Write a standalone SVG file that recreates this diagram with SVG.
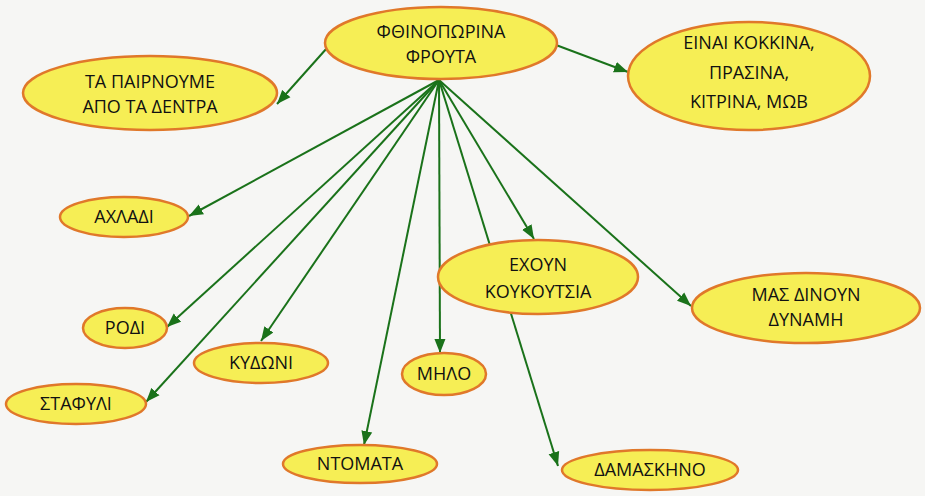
<svg xmlns="http://www.w3.org/2000/svg" width="925" height="496" viewBox="0 0 925 496">
<style>
.bg{fill:#f6f6f4}
.n{fill:#f6ee55;stroke:#e0782a;stroke-width:2.5}
.t{font-family:"Open Sans","DejaVu Sans",sans-serif;font-size:18px;fill:#111;text-anchor:middle}
.c{stroke:#1a721a;stroke-width:2;fill:none;marker-end:url(#ah)}
</style>
<defs>
<marker id="ah" markerUnits="userSpaceOnUse" markerWidth="16" markerHeight="12" refX="14" refY="6" orient="auto">
<path d="M0,0.5 L14,6 L0,11.5 z" fill="#1a721a"/>
</marker>
</defs>
<rect class="bg" x="0" y="0" width="925" height="496"/>
<g id="connectors">
<line class="c" x1="327" y1="48" x2="277" y2="104"/>
<line class="c" x1="556" y1="45" x2="628" y2="72"/>
<line class="c" x1="439" y1="80" x2="189" y2="216"/>
<line class="c" x1="439" y1="80" x2="167" y2="327"/>
<line class="c" x1="439" y1="80" x2="146" y2="402"/>
<line class="c" x1="439" y1="80" x2="261" y2="341"/>
<line class="c" x1="439" y1="80" x2="364" y2="445"/>
<line class="c" x1="439" y1="80" x2="440" y2="353"/>
<line class="c" x1="439" y1="80" x2="534" y2="239"/>
<line class="c" x1="439" y1="80" x2="558" y2="466"/>
<line class="c" x1="439" y1="80" x2="691" y2="306"/>
</g>
<g id="root"><ellipse class="n" cx="441" cy="43" rx="116" ry="36"/><text class="t" x="441" y="38">ΦΘΙΝΟΠΩΡΙΝΑ</text><text class="t" x="441" y="63">ΦΡΟΥΤΑ</text></g>
<g id="trees"><ellipse class="n" cx="150" cy="93" rx="127" ry="37"/><text class="t" x="150" y="88">ΤΑ ΠΑΙΡΝΟΥΜΕ</text><text class="t" x="150" y="113">ΑΠΟ ΤΑ ΔΕΝΤΡΑ</text></g>
<g id="colors"><ellipse class="n" cx="749" cy="76" rx="121" ry="54"/><text class="t" x="749" y="49">ΕΙΝΑΙ ΚΟΚΚΙΝΑ,</text><text class="t" x="749" y="79">ΠΡΑΣΙΝΑ,</text><text class="t" x="749" y="108">ΚΙΤΡΙΝΑ, ΜΩΒ</text></g>
<g id="achladi"><ellipse class="n" cx="124" cy="217" rx="64" ry="20"/><text class="t" x="124" y="223">ΑΧΛΑΔΙ</text></g>
<g id="rodi"><ellipse class="n" cx="125" cy="328" rx="42" ry="20"/><text class="t" x="125" y="334">ΡΟΔΙ</text></g>
<g id="stafyli"><ellipse class="n" cx="76" cy="404" rx="70" ry="20"/><text class="t" x="76" y="410">ΣΤΑΦΥΛΙ</text></g>
<g id="kydoni"><ellipse class="n" cx="261" cy="363" rx="67" ry="20"/><text class="t" x="261" y="369">ΚΥΔΩΝΙ</text></g>
<g id="ntomata"><ellipse class="n" cx="360" cy="464" rx="77" ry="19"/><text class="t" x="360" y="470">ΝΤΟΜΑΤΑ</text></g>
<g id="milo"><ellipse class="n" cx="444" cy="374" rx="42" ry="21"/><text class="t" x="444" y="380">ΜΗΛΟ</text></g>
<g id="koukoutsia"><ellipse class="n" cx="538" cy="277" rx="100" ry="37"/><text class="t" x="538" y="271">ΕΧΟΥΝ</text><text class="t" x="538" y="298">ΚΟΥΚΟΥΤΣΙΑ</text></g>
<g id="damaskino"><ellipse class="n" cx="650" cy="470" rx="88" ry="20"/><text class="t" x="650" y="476">ΔΑΜΑΣΚΗΝΟ</text></g>
<g id="dynami"><ellipse class="n" cx="806" cy="308" rx="114" ry="35"/><text class="t" x="806" y="301">ΜΑΣ ΔΙΝΟΥΝ</text><text class="t" x="806" y="326">ΔΥΝΑΜΗ</text></g>
</svg>
